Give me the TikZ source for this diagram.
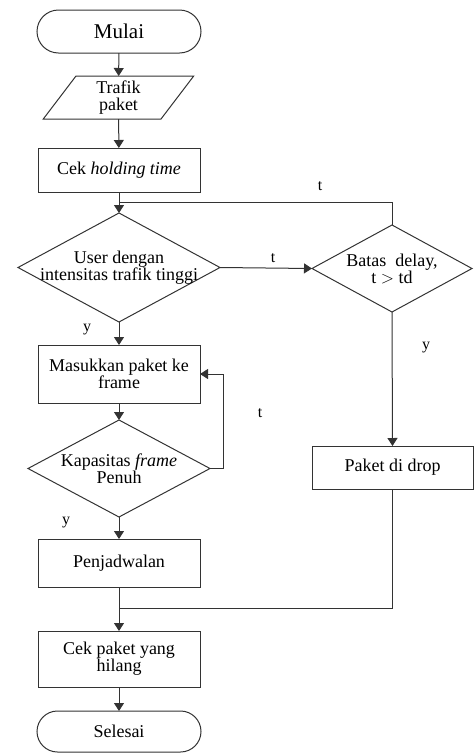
\documentclass[tikz,border=0pt]{standalone}
\usepackage{fontspec}
\setmainfont{Liberation Serif}
\usetikzlibrary{shapes.geometric,shapes.misc,arrows.meta}
\tikzset{
  base/.style={draw=black!80, line width=1pt, inner sep=0pt, outer sep=0pt, align=center, font=\fontsize{18}{17}\selectfont},
  terminal/.style={base, rounded rectangle, minimum width=164pt},
  io/.style={base, trapezium, trapezium left angle=63, trapezium right angle=117, trapezium stretches=true, minimum width=151pt, minimum height=43pt},
  process/.style={base, rectangle, minimum width=162pt},
  decision/.style={base, diamond},
  dtext/.style={align=center, inner sep=0pt, font=\fontsize{18}{17}\selectfont},
  arrow/.style={draw=black!80, line width=1pt, -{Triangle[length=8pt,width=10pt]}},
  line/.style={draw=black!80, line width=1pt},
  lbl/.style={inner sep=0pt, font=\fontsize{16}{16}\selectfont}
}
\begin{document}
\begin{tikzpicture}[x=1pt,y=-1pt]
        \useasboundingbox (0,0) rectangle (475,753);
        %% main column
        \node[terminal, minimum height=43pt, font=\fontsize{21}{21}\selectfont] (mulai) at (119,31.5) {Mulai};
        \node[io] (trafik) at (118.5,97.5) {Trafik\\paket};
        \node[process, minimum height=44pt] (cek) at (119,170) {Cek \textit{holding time}};
        \node[decision, minimum width=202pt, minimum height=109pt,
              label={[dtext]center:User dengan\\intensitas trafik tinggi}] (user) at (119,267.5) {};
        \node[process, minimum height=58pt] (masuk) at (119,374) {Masukkan paket ke\\frame};
        \node[decision, minimum width=182pt, minimum height=97pt,
              label={[dtext]center:Kapasitas \textit{frame}\\Penuh}] (kap) at (119,468.5) {};
        \node[process, minimum height=48pt] (jadwal) at (119,563) {Penjadwalan};
        \node[process, minimum height=56pt] (hilang) at (119,659) {Cek paket yang\\hilang};
        \node[terminal, minimum height=41pt] (selesai) at (119,731.5) {Selesai};
        %% right column
        \node[decision, minimum width=160pt, minimum height=87pt,
              label={[dtext]center:Batas~~delay,\\t $>$ td}] (batas) at (392,268.5) {};
        \node[process, minimum width=161pt, minimum height=43pt] (drop) at (392.5,467.5) {Paket di drop};
        %% merge points
        \coordinate (m1) at (119,202);
        \coordinate (m2) at (119,608);
        %% connectors
        \draw[arrow] (mulai) -- (trafik);
        \draw[arrow] (trafik) -- (cek);
        \draw[arrow] (cek.south) -- (user.north);
        \draw[line] (batas.north) |- (m1);
        \draw[arrow] (user.east) -- (batas.west);
        \draw[arrow] (user.south) -- (masuk.north);
        \draw[arrow] (masuk.south) -- (kap.north);
        \draw[arrow] (kap.east) -- ++(13,0) |- (masuk.east);
        \draw[arrow] (kap.south) -- (jadwal.north);
        \draw[arrow] (batas.south) -- (drop.north);
        \draw[arrow] (jadwal.south) -- (hilang.north);
        \draw[line] (drop.south) |- (m2);
        \draw[arrow] (hilang.south) -- (selesai.north);
        %% labels
        \node[lbl] (t1) at (320,186) {t};
        \node[lbl] (t2) at (273,258) {t};
        \node[lbl] (y1) at (87,330) {y};
        \node[lbl] (t3) at (260,413) {t};
        \node[lbl] (y2) at (66,523) {y};
        \node[lbl] (y3) at (426,348) {y};
\end{tikzpicture}
\end{document}
